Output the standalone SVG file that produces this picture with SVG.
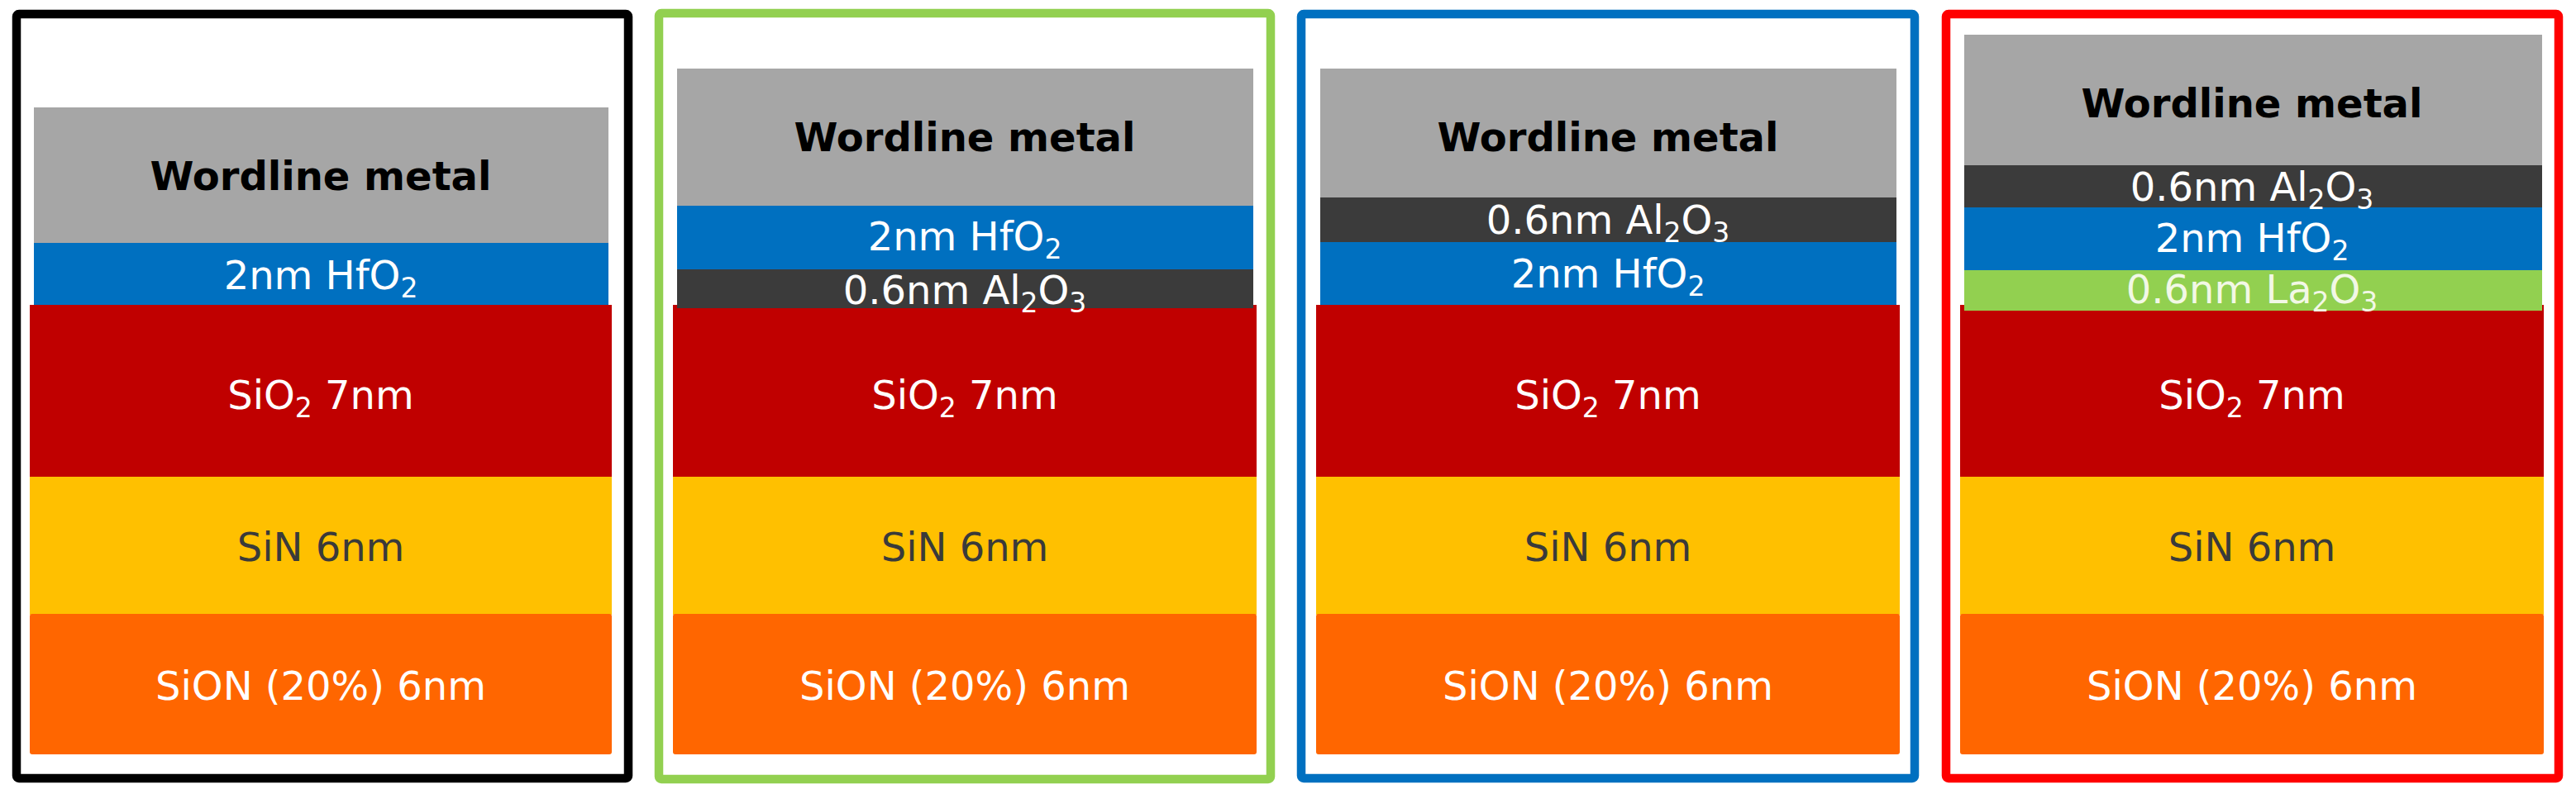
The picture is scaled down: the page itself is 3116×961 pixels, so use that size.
<svg xmlns="http://www.w3.org/2000/svg" width="3116" height="961" viewBox="0 0 3116 961">
<style>
.frame{fill:none;stroke-width:10.5}
.wl{fill:#a6a6a6}
.hf{fill:#0070c0}
.al{fill:#3b3b3b}
.la{fill:#92d050}
.ox{fill:#c00000}
.sin{fill:#ffc000}
.sion{fill:#ff6600}
text{font-family:"DejaVu Sans","Verdana",sans-serif;font-size:48px;text-anchor:middle}
.tw{fill:#ffffff}
.tb{fill:#000000;font-weight:bold}
.td{fill:#3a3a3a}
.tl{fill:#f2f8e6}
.sub{font-size:33px}
</style>
<rect width="3116" height="961" fill="#ffffff"/>

<g id="panel1">
  <rect class="frame" x="20" y="17" width="740" height="925" rx="3" stroke="#000000"/>
  <g id="p1-sio2"><rect class="ox" x="36" y="369" width="704" height="209"/><text class="tw" x="388" y="495">SiO<tspan class="sub" dy="10">2</tspan><tspan dy="-10"> 7nm</tspan></text></g>
  <g id="p1-sin"><rect class="sin" x="36" y="577" width="704" height="167"/><text class="td" x="388" y="679">SiN 6nm</text></g>
  <g id="p1-sion"><rect class="sion" x="36" y="743" width="704" height="170" rx="3"/><text class="tw" x="388" y="847">SiON (20%) 6nm</text></g>
  <g id="p1-hfo2"><rect class="hf" x="41" y="293" width="695" height="76"/><text class="tw" x="388" y="350">2nm HfO<tspan class="sub" dy="10">2</tspan></text></g>
  <g id="p1-wordline"><rect class="wl" x="41" y="130" width="695" height="164"/><text class="tb" x="388" y="230">Wordline metal</text></g>
</g>

<g id="panel2">
  <rect class="frame" x="797" y="16" width="740" height="927" rx="3" stroke="#92d050"/>
  <g id="p2-sio2"><rect class="ox" x="814" y="369" width="706" height="209"/><text class="tw" x="1167" y="495">SiO<tspan class="sub" dy="10">2</tspan><tspan dy="-10"> 7nm</tspan></text></g>
  <g id="p2-sin"><rect class="sin" x="814" y="577" width="706" height="167"/><text class="td" x="1167" y="679">SiN 6nm</text></g>
  <g id="p2-sion"><rect class="sion" x="814" y="743" width="706" height="170" rx="3"/><text class="tw" x="1167" y="847">SiON (20%) 6nm</text></g>
  <g id="p2-al2o3"><rect class="al" x="819" y="325" width="697" height="48"/><text class="tw" x="1167" y="368">0.6nm Al<tspan class="sub" dy="10">2</tspan><tspan dy="-10">O</tspan><tspan class="sub" dy="10">3</tspan></text></g>
  <g id="p2-hfo2"><rect class="hf" x="819" y="248" width="697" height="78"/><text class="tw" x="1167" y="303">2nm HfO<tspan class="sub" dy="10">2</tspan></text></g>
  <g id="p2-wordline"><rect class="wl" x="819" y="83" width="697" height="166"/><text class="tb" x="1167" y="183">Wordline metal</text></g>
</g>

<g id="panel3">
  <rect class="frame" x="1574" y="17" width="742" height="925" rx="3" stroke="#0070c0"/>
  <g id="p3-sio2"><rect class="ox" x="1592" y="369" width="706" height="209"/><text class="tw" x="1945" y="495">SiO<tspan class="sub" dy="10">2</tspan><tspan dy="-10"> 7nm</tspan></text></g>
  <g id="p3-sin"><rect class="sin" x="1592" y="577" width="706" height="167"/><text class="td" x="1945" y="679">SiN 6nm</text></g>
  <g id="p3-sion"><rect class="sion" x="1592" y="743" width="706" height="170" rx="3"/><text class="tw" x="1945" y="847">SiON (20%) 6nm</text></g>
  <g id="p3-hfo2"><rect class="hf" x="1597" y="292" width="697" height="77"/><text class="tw" x="1945" y="348">2nm HfO<tspan class="sub" dy="10">2</tspan></text></g>
  <g id="p3-al2o3"><rect class="al" x="1597" y="238" width="697" height="55"/><text class="tw" x="1945" y="283">0.6nm Al<tspan class="sub" dy="10">2</tspan><tspan dy="-10">O</tspan><tspan class="sub" dy="10">3</tspan></text></g>
  <g id="p3-wordline"><rect class="wl" x="1597" y="83" width="697" height="156"/><text class="tb" x="1945" y="183">Wordline metal</text></g>
</g>

<g id="panel4">
  <rect class="frame" x="2354" y="17" width="741" height="925" rx="3" stroke="#ff0000"/>
  <g id="p4-sio2"><rect class="ox" x="2371" y="369" width="706" height="209"/><text class="tw" x="2724" y="495">SiO<tspan class="sub" dy="10">2</tspan><tspan dy="-10"> 7nm</tspan></text></g>
  <g id="p4-sin"><rect class="sin" x="2371" y="577" width="706" height="167"/><text class="td" x="2724" y="679">SiN 6nm</text></g>
  <g id="p4-sion"><rect class="sion" x="2371" y="743" width="706" height="170" rx="3"/><text class="tw" x="2724" y="847">SiON (20%) 6nm</text></g>
  <g id="p4-la2o3"><rect class="la" x="2376" y="326" width="699" height="50"/><text class="tl" x="2724" y="367">0.6nm La<tspan class="sub" dy="10">2</tspan><tspan dy="-10">O</tspan><tspan class="sub" dy="10">3</tspan></text></g>
  <g id="p4-hfo2"><rect class="hf" x="2376" y="250" width="699" height="77"/><text class="tw" x="2724" y="305">2nm HfO<tspan class="sub" dy="10">2</tspan></text></g>
  <g id="p4-al2o3"><rect class="al" x="2376" y="199" width="699" height="52"/><text class="tw" x="2724" y="243">0.6nm Al<tspan class="sub" dy="10">2</tspan><tspan dy="-10">O</tspan><tspan class="sub" dy="10">3</tspan></text></g>
  <g id="p4-wordline"><rect class="wl" x="2376" y="42" width="699" height="158"/><text class="tb" x="2724" y="142">Wordline metal</text></g>
</g>

<g id="connectors"></g>
</svg>
